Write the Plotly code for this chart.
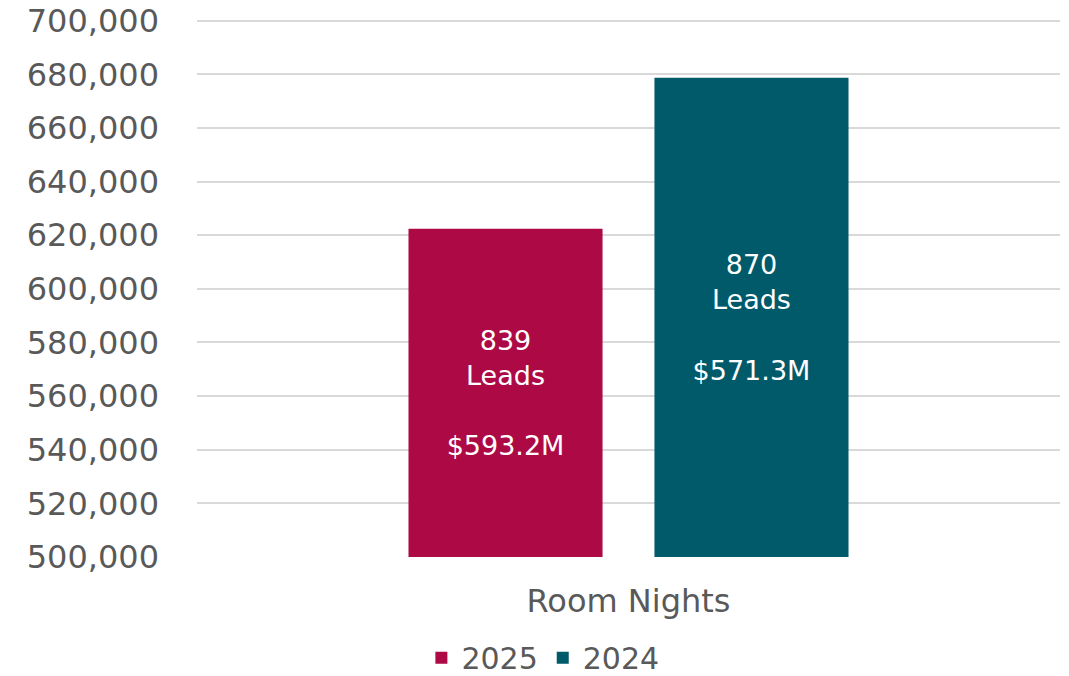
import plotly.graph_objects as go

categories = ["Room Nights"]
series_names = ["2025", "2024"]
values_2025 = [622400]
values_2024 = [678700]
leads = [839, 870]
revenue = ["$593.2M", "$571.3M"]
y_ticks = list(range(500000, 700001, 20000))
axis_base = 500000

colors = ["#AD0A45", "#005A6A"]
FONT = "DejaVu Sans"
GRAY = "#595959"

fig = go.Figure()
texts = [
    f"{leads[0]}<br>Leads<br> <br>{revenue[0]}",
    f"{leads[1]}<br>Leads<br> <br>{revenue[1]}",
]
for name, vals, col, txt in zip(series_names, [values_2025, values_2024], colors, texts):
    fig.add_trace(go.Bar(
        x=categories, y=[v - axis_base for v in vals], base=[axis_base] * len(vals),
        name=name, marker_color=col, marker_line_width=0,
        text=[txt], textposition="inside", insidetextanchor="middle",
        textfont=dict(family=FONT, size=27, color="white"),
        textangle=0, constraintext="none",
        customdata=vals, hovertemplate="%{customdata:,}<extra>%{fullData.name}</extra>",
    ))

fig.update_layout(
    width=1069, height=676,
    margin=dict(l=197, r=9, t=18, b=119, autoexpand=False),
    paper_bgcolor="white", plot_bgcolor="white",
    barmode="group", bargap=0.43, bargroupgap=0.211,
    font=dict(family=FONT, color=GRAY),
    legend=dict(orientation="h", x=0.26, xanchor="left", y=-0.187, yanchor="middle",
                font=dict(family=FONT, size=30, color=GRAY), itemwidth=30,
                traceorder="normal"),
    showlegend=True,
)
fig.update_yaxes(range=[500000, 701000], tickvals=y_ticks,
                 ticktext=[f"{v:,}" for v in y_ticks],
                 showgrid=True, gridcolor="#D9D9D9", gridwidth=2,
                 zeroline=False, showline=False, ticks="", automargin=False,
                 ticklabelstandoff=37, ticklabeloverflow="allow",
                 tickfont=dict(family=FONT, size=32, color=GRAY))
fig.update_xaxes(showgrid=False, showline=False, ticks="", ticklabelstandoff=22,
                 automargin=False,
                 tickfont=dict(family=FONT, size=32, color=GRAY))

fig.write_html("out.html", config={"displayModeBar": False},
               post_script="document.body.style.margin='0px';")
